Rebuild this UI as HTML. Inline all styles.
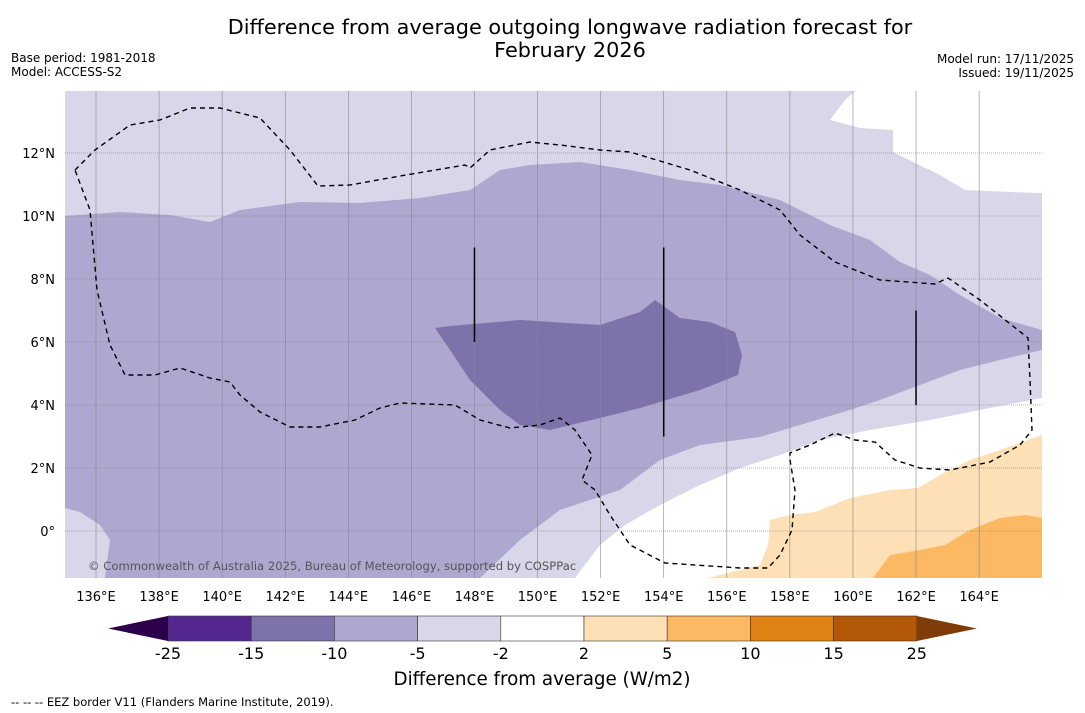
<!DOCTYPE html>
<html><head><meta charset="utf-8"><style>
body{margin:0;background:#fff;font-family:"Liberation Sans","DejaVu Sans",sans-serif;}
svg{display:block}
</style></head><body>
<svg id="chart" width="1085" height="713" font-family="DejaVu Sans, Liberation Sans, sans-serif">
<text x="570" y="34" text-anchor="middle" font-size="20.8">Difference from average outgoing longwave radiation forecast for</text>
<text x="570" y="57" text-anchor="middle" font-size="20.8">February 2026</text>
<text x="11" y="62" font-size="12">Base period: 1981-2018</text>
<text x="11" y="76" font-size="12">Model: ACCESS-S2</text>
<text x="1074" y="63" font-size="12" text-anchor="end">Model run: 17/11/2025</text>
<text x="1074" y="77" font-size="12" text-anchor="end">Issued: 19/11/2025</text>
<defs><clipPath id="mc"><rect x="65" y="91" width="977" height="487"/></clipPath></defs>
<g id="map" clip-path="url(#mc)"></g>
<g id="axes"></g>
<g id="cbar"></g>
<text x="542" y="685" text-anchor="middle" font-size="18.3">Difference from average (W/m2)</text>
<text x="11" y="706" font-size="11.5">--  --  -- EEZ border V11 (Flanders Marine Institute, 2019).</text>
</svg>
<script>
const lonTicks=[136,138,140,142,144,146,148,150,152,154,156,158,160,162,164];
const latTicks=[0,2,4,6,8,10,12];
const cbLevels=[-25,-15,-10,-5,-2,2,5,10,15,25];
const cbColors=["#54278f","#7e72ab","#aea8d0","#d8d7ea","#ffffff","#fde0b6","#fdb863","#e08214","#b35806"];
const X=lon=>96+31.54*(lon-136), Y=lat=>531-31.5*lat;
const NS="http://www.w3.org/2000/svg";
function mk(p,t,a){const e=document.createElementNS(NS,t);for(const k in a)e.setAttribute(k,a[k]);p.appendChild(e);return e;}
const map=document.getElementById('map'),axes=document.getElementById('axes'),cb=document.getElementById('cbar');
const regions=[
 ["light-band","#d8d7ea","65,91 1042,91 1042,578 65,578"],
 ["white-north","#ffffff","855,91 1042,91 1042,193 1010,192 965,190 940,175 905,158 893,152 893,130 860,128 830,120 845,100"],
 ["white-south","#ffffff","1042,398 990,408 930,420 870,430 820,440 780,455 740,468 700,485 660,505 625,525 600,545 575,578 1042,578"],
 ["medium-purple","#aea8d0","65,216 120,212 170,215 210,222 240,210 300,202 360,203 420,198 470,190 500,170 530,165 580,162 630,170 680,180 720,185 780,200 830,225 870,240 900,262 930,275 960,295 1000,318 1042,330 1042,350 1000,360 960,370 920,385 880,400 850,410 800,425 760,437 700,445 660,460 620,490 560,510 520,540 480,578 105,578 110,540 100,525 80,512 65,508"],
 ["dark-purple","#7e72ab","435,328 450,326 520,320 600,325 640,312 655,300 680,318 710,322 735,332 742,355 738,375 700,390 640,408 600,418 550,430 520,425 500,410 470,380 450,350"],
 ["light-orange","#fde0b6","708,578 760,565 768,545 770,520 790,515 815,512 850,498 890,490 918,488 940,475 970,460 1000,450 1042,435 1042,578"],
 ["orange","#fdb863","873,578 890,555 920,550 945,545 970,530 1000,518 1025,515 1042,518 1042,578"]];
regions.forEach(r=>{const e=mk(map,'polygon',{points:r[2],fill:r[1]});

});
lonTicks.forEach(l=>{const e=mk(map,'line',{x1:X(l),x2:X(l),y1:91,y2:578,stroke:'#888','stroke-width':0.6});

});
latTicks.forEach(l=>{const e=mk(map,'line',{x1:65,x2:1042,y1:Y(l),y2:Y(l),stroke:'#777','stroke-width':0.6,'stroke-dasharray':'1,1'});

});
const eez=mk(map,'polyline',{fill:'none',stroke:'#000','stroke-width':1.4,'stroke-dasharray':'5,4',points:"75,170 95,150 130,125 160,120 190,108 220,108 260,118 290,150 318,186 350,185 400,176 465,165 470,168 490,150 530,142 560,145 600,150 630,152 690,170 740,190 780,210 800,235 835,262 880,280 935,284 948,278 980,300 1028,338 1030,380 1032,430 1020,445 990,462 950,470 920,468 895,460 875,442 855,440 835,433 810,445 790,453 790,460 795,490 792,530 780,555 768,568 740,568 665,563 630,545 610,515 595,490 582,480 592,455 575,430 560,418 540,425 510,428 480,420 455,405 400,403 380,408 355,420 320,427 290,427 260,412 240,395 230,382 210,378 180,368 155,375 125,375 110,345 97,290 90,210 75,170"});


[[148,9,6],[154,9,3],[162,7,4]].forEach(v=>{const e=mk(map,'line',{x1:X(v[0]),x2:X(v[0]),y1:Y(v[1]),y2:Y(v[2]),stroke:'#000','stroke-width':1.5});

});
const cr=mk(map,'text',{x:88,y:570,'font-size':11.6,fill:'#555'});cr.textContent="© Commonwealth of Australia 2025, Bureau of Meteorology, supported by COSPPac";


lonTicks.forEach(l=>{const t=mk(axes,'text',{x:X(l),y:601,'font-size':13,'text-anchor':'middle'});t.textContent=l+'°E';

});
latTicks.forEach(l=>{const t=mk(axes,'text',{x:55,y:Y(l)+5,'font-size':13,'text-anchor':'end'});t.textContent=(l==0?'0°':l+'°N');

});
const cbX0=168,cbW=83.2,cy=616,ch=25;
cbColors.forEach((c,i)=>{const r=mk(cb,'rect',{x:cbX0+i*cbW,y:cy,width:cbW,height:ch,fill:c,stroke:'#333','stroke-width':0.6});

});
const lt=mk(cb,'polygon',{points:`108,${cy+ch/2} ${cbX0},${cy} ${cbX0},${cy+ch}`,fill:'#2d004b'});


const xe=cbX0+cbColors.length*cbW;
const rt=mk(cb,'polygon',{points:`${xe},${cy} ${xe+60},${cy+ch/2} ${xe},${cy+ch}`,fill:'#7f3b08'});


cbLevels.forEach((v,i)=>{const t=mk(cb,'text',{x:cbX0+i*cbW,y:659,'font-size':16,'text-anchor':'middle'});t.textContent=v;

});
</script>
</body></html>
